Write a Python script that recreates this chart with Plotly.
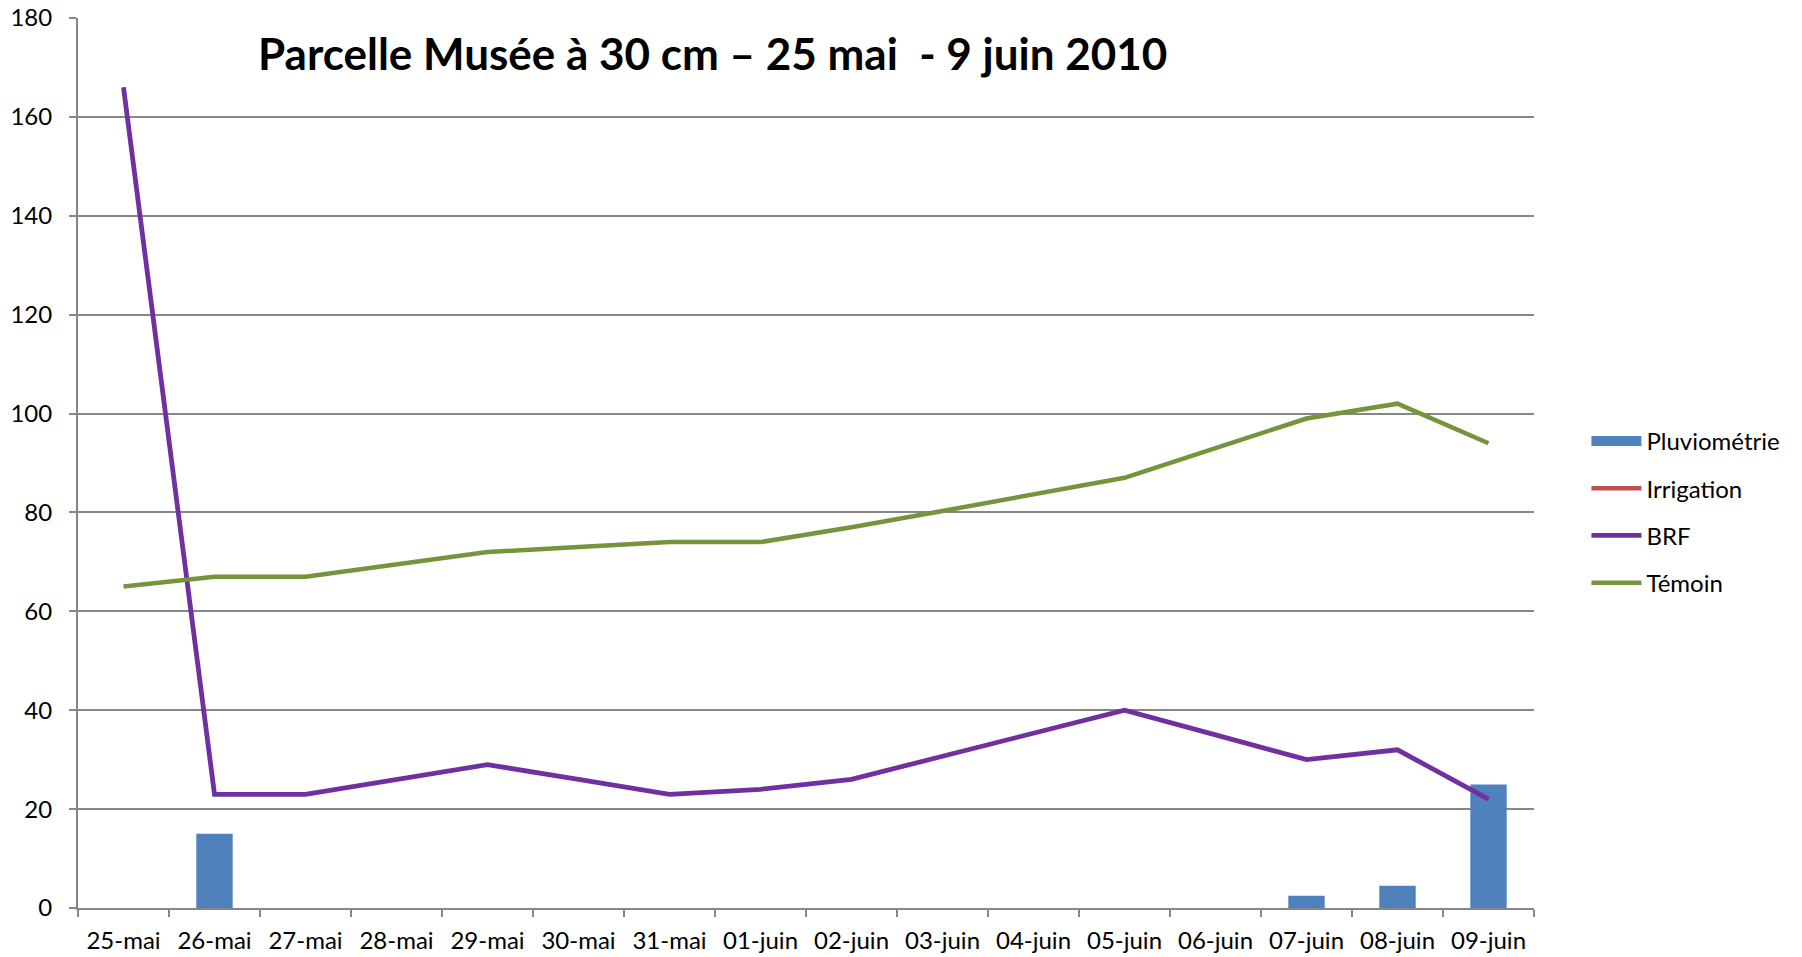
import plotly.graph_objects as go

dates = ["25-mai", "26-mai", "27-mai", "28-mai", "29-mai", "30-mai", "31-mai",
         "01-juin", "02-juin", "03-juin", "04-juin", "05-juin", "06-juin",
         "07-juin", "08-juin", "09-juin"]
pluviometrie = [0, 15, 0, 0, 0, 0, 0, 0, 0, 0, 0, 0, 0, 2.5, 4.5, 25]
irrigation = [None] * 16
brf = [166, 23, 23, 26, 29, 26, 23, 24, 26, 30.7, 35.3, 40, 35, 30, 32, 22]
temoin = [65, 67, 67, 69.5, 72, 73, 74, 74, 77, 80.3, 83.7, 87, 93, 99, 102, 94]
y_ticks = [0, 20, 40, 60, 80, 100, 120, 140, 160, 180]

FONT = "Lato, Carlito, Calibri, sans-serif"
GRID = "#868686"
BLUE = "#4F81BD"

fig = go.Figure()
fig.add_trace(go.Bar(x=dates, y=pluviometrie, name="Pluviométrie",
                     marker=dict(color=BLUE, line=dict(width=0)),
                     width=0.4, legendgroup="a", showlegend=False))
# legend entry for the bars (wide rectangle like the original)
fig.add_trace(go.Scatter(x=dates, y=[None] * 16, name="Pluviométrie", mode="lines",
                         line=dict(color=BLUE, width=14), legendgroup="a"))
fig.add_trace(go.Scatter(x=dates, y=irrigation, name="Irrigation", mode="lines",
                         line=dict(color="#C0504D", width=4.5), legendgroup="b"))
fig.add_trace(go.Scatter(x=dates, y=brf, name="BRF", mode="lines",
                         line=dict(color="#7030A0", width=4.8), legendgroup="c"))
fig.add_trace(go.Scatter(x=dates, y=temoin, name="Témoin", mode="lines",
                         line=dict(color="#77933C", width=4.5), legendgroup="d"))

fig.update_layout(
    width=1802, height=957,
    margin=dict(l=78, r=268, t=18, b=49, autoexpand=False),
    paper_bgcolor="white", plot_bgcolor="white",
    font=dict(family=FONT, size=24, color="black"),
    showlegend=True,
    legend=dict(x=1.036, xanchor="left", y=0.445, yanchor="middle",
                font=dict(size=24), tracegroupgap=13, itemwidth=50,
                bgcolor="rgba(0,0,0,0)"),
    bargap=0.6,
    annotations=[dict(text="<b>Parcelle Musée à 30 cm – 25 mai  - 9 juin 2010</b>",
                      x=0.436, y=0.9607, xref="paper", yref="paper",
                      xanchor="center", yanchor="middle", showarrow=False,
                      font=dict(family=FONT, size=44, color="black"))],
)
fig.update_xaxes(type="category", range=[-0.5, 15.5], tickson="boundaries",
                 ticks="outside", ticklen=7, tickcolor=GRID, tickwidth=2,
                 showline=True, linecolor=GRID, linewidth=2, automargin=False,
                 showgrid=False, ticklabelstandoff=10,
                 tickfont=dict(family=FONT, size=24))
fig.update_yaxes(range=[0, 180], tickvals=y_ticks, ticks="outside", ticklen=7,
                 tickcolor=GRID, tickwidth=2, showline=True, linecolor=GRID,
                 linewidth=2, showgrid=True, gridcolor=GRID, gridwidth=1.5,
                 zeroline=False, ticklabelstandoff=12, automargin=False,
                 tickfont=dict(family=FONT, size=24))

fig.write_html("out.html", config={"displayModeBar": False},
               post_script="document.body.style.margin='0';document.body.style.overflow='hidden';")
